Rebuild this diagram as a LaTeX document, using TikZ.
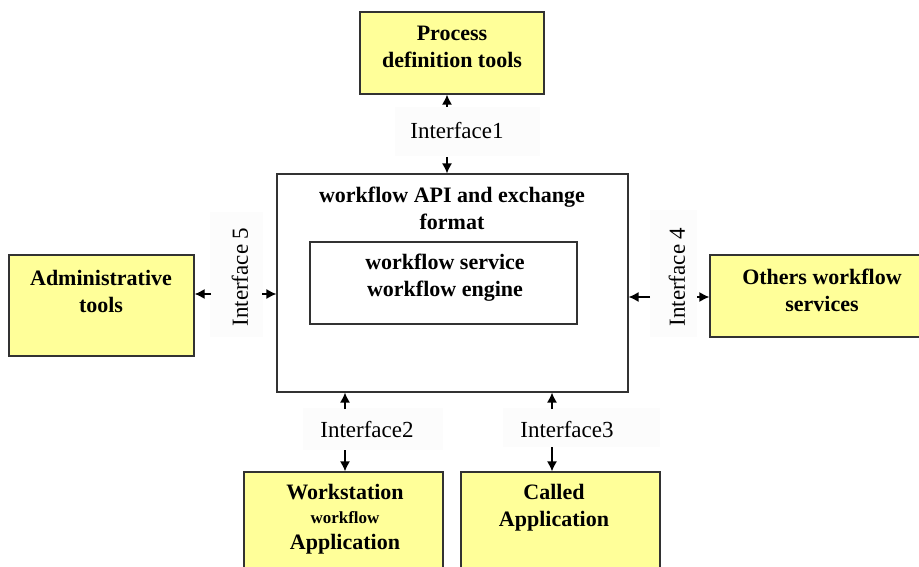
\documentclass[tikz,border=0pt]{standalone}
\usepackage{fontspec}
\setmainfont{Liberation Serif}
\usetikzlibrary{arrows.meta}
\definecolor{boxyellow}{RGB}{255,255,153}
\definecolor{boxedge}{RGB}{50,50,50}
\definecolor{ifacebg}{RGB}{252,252,252}
\tikzset{
  toolbox/.style={draw=boxedge, line width=1.3pt, fill=boxyellow, minimum width=#1, inner sep=0pt},
  plainbox/.style={draw=boxedge, line width=1.2pt, fill=white, inner sep=0pt},
  boxtext/.style={font=\fontsize{22}{27}\selectfont\bfseries, align=center, inner sep=0pt},
  ifacebox/.style={fill=ifacebg, inner sep=0pt},
  ifacetext/.style={inner sep=0pt, font=\fontsize{23}{27}\selectfont, text=black},
  arr/.style={-{Latex[length=10pt,width=10pt]}, line width=1.3pt, black}
}
\begin{document}
\begin{tikzpicture}[x=1pt,y=-1pt]
\useasboundingbox (0,0) rectangle (919,567);
\fill[white] (0,0) rectangle (919,567);

% faint panels behind the interface names
\node[ifacebox, minimum width=145pt, minimum height=49pt] (i1) at (467,132) {};
\node[ifacebox, minimum width=53pt, minimum height=125pt] (i5) at (236.5,274.5) {};
\node[ifacebox, minimum width=47pt, minimum height=127pt] (i4) at (673.5,273.5) {};
\node[ifacebox, minimum width=140pt, minimum height=42pt] (i2) at (373,429) {};
\node[ifacebox, minimum width=157pt, minimum height=39pt] (i3) at (581.5,427.5) {};

% boxes
\node[toolbox=184pt, minimum height=82pt] (proc) at (452,53) {};
\node[plainbox, minimum width=351pt, minimum height=218pt] (main) at (452.5,283) {};
\node[plainbox, minimum width=267pt, minimum height=82pt] (inner) at (443.5,283) {};
\node[toolbox=185pt, minimum height=101pt] (admin) at (101.5,305.5) {};
\node[toolbox=220pt, minimum height=82pt] (others) at (820,296) {};
\node[toolbox=199pt, minimum height=128pt] (work) at (343.5,536) {};
\node[toolbox=199pt, minimum height=128pt] (called) at (560.5,536) {};

% box texts
\node[boxtext] (proct) at (452,47) {Process\\definition tools};
\node[boxtext] (maint) at (452,208.5) {workflow API and exchange\\format};
\node[boxtext] (innert) at (445,277.5) {workflow service\\workflow engine};
\node[boxtext] (admint) at (101,291) {Administrative\\tools};
\node[boxtext] (otherst) at (822,290.5) {Others workflow\\services};
\node[boxtext] (workt1) at (345,492) {Workstation};
\node[boxtext, font=\fontsize{17}{20}\selectfont\bfseries] (workt2) at (345,518) {workflow};
\node[boxtext] (workt3) at (345,544) {Application};
\node[boxtext] (calledt) at (554,507.5) {Called\\Application};

% interface names
\node[ifacetext] (i1t) at (457,131) {Interface1};
\node[ifacetext, rotate=90] (i5t) at (240,277) {Interface 5};
\node[ifacetext, rotate=90] (i4t) at (677,277) {Interface 4};
\node[ifacetext] (i2t) at (367,430) {Interface2};
\node[ifacetext] (i3t) at (567,430) {Interface3};

% connectors
\coordinate (i1u) at (447,107);
\coordinate (i1d) at (447,157);
\draw[arr] (i1u) -- (i1u |- proc.south);
\draw[arr] (i1d) -- (i1d |- main.north);

\coordinate (i5l) at (211,294);
\coordinate (i5r) at (262,294);
\draw[arr] (i5l) -- (i5l -| admin.east);
\draw[arr] (i5r) -- (i5r -| main.west);

\coordinate (i4l) at (650,297);
\coordinate (i4r) at (697,297);
\draw[arr] (i4l) -- (i4l -| main.east);
\draw[arr] (i4r) -- (i4r -| others.west);

\coordinate (i2u) at (345,409);
\coordinate (i2d) at (345,450);
\draw[arr] (i2u) -- (i2u |- main.south);
\draw[arr] (i2d) -- (i2d |- work.north);

\coordinate (i3u) at (552,409);
\coordinate (i3d) at (552,447);
\draw[arr] (i3u) -- (i3u |- main.south);
\draw[arr] (i3d) -- (i3d |- called.north);
\end{tikzpicture}
\end{document}
